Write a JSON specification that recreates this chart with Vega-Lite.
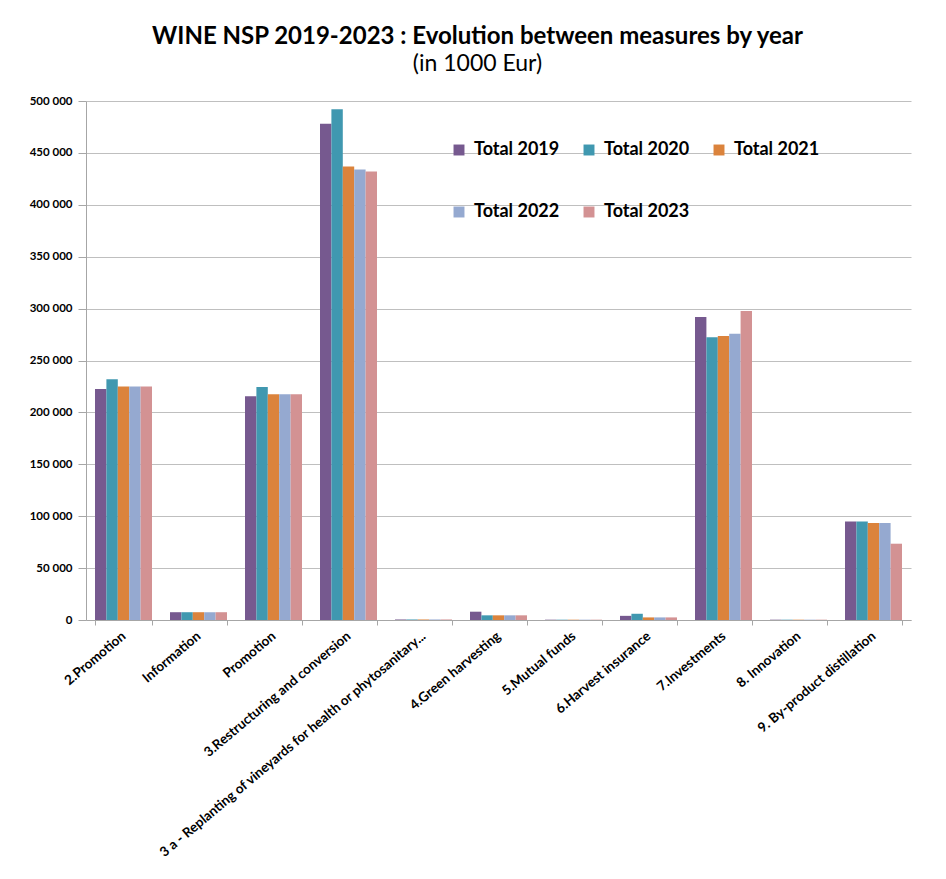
{
  "$schema": "https://vega.github.io/schema/vega-lite/v6.json",
  "width": 825,
  "height": 519,
  "autosize": {"type": "none"},
  "padding": {"left": 86, "top": 101, "right": 35, "bottom": 259},
  "background": "white",
  "title": {
    "text": "WINE NSP 2019-2023 : Evolution  between measures by year",
    "subtitle": "(in 1000 Eur)",
    "anchor": "middle",
    "dx": -21,
    "dy": 1,
    "offset": 20,
    "font": "Lato",
    "fontSize": 24,
    "fontWeight": "bold",
    "color": "#000000",
    "subtitleFont": "Lato",
    "subtitleFontSize": 23,
    "subtitleColor": "#000000",
    "subtitlePadding": 4
  },
  "data": {
    "values": [
      {"measure": "2.Promotion", "year": "Total 2019", "value": 222500},
      {"measure": "2.Promotion", "year": "Total 2020", "value": 232000},
      {"measure": "2.Promotion", "year": "Total 2021", "value": 225000},
      {"measure": "2.Promotion", "year": "Total 2022", "value": 225000},
      {"measure": "2.Promotion", "year": "Total 2023", "value": 225000},
      {"measure": "Information", "year": "Total 2019", "value": 7500},
      {"measure": "Information", "year": "Total 2020", "value": 7500},
      {"measure": "Information", "year": "Total 2021", "value": 7500},
      {"measure": "Information", "year": "Total 2022", "value": 7500},
      {"measure": "Information", "year": "Total 2023", "value": 7500},
      {"measure": "Promotion", "year": "Total 2019", "value": 215500},
      {"measure": "Promotion", "year": "Total 2020", "value": 224500},
      {"measure": "Promotion", "year": "Total 2021", "value": 217500},
      {"measure": "Promotion", "year": "Total 2022", "value": 217500},
      {"measure": "Promotion", "year": "Total 2023", "value": 217500},
      {"measure": "3.Restructuring and conversion", "year": "Total 2019", "value": 478000},
      {"measure": "3.Restructuring and conversion", "year": "Total 2020", "value": 492000},
      {"measure": "3.Restructuring and conversion", "year": "Total 2021", "value": 437000},
      {"measure": "3.Restructuring and conversion", "year": "Total 2022", "value": 434000},
      {"measure": "3.Restructuring and conversion", "year": "Total 2023", "value": 432000},
      {"measure": "3 a - Replanting of vineyards for health or phytosanitary...", "year": "Total 2019", "value": 500},
      {"measure": "3 a - Replanting of vineyards for health or phytosanitary...", "year": "Total 2020", "value": 500},
      {"measure": "3 a - Replanting of vineyards for health or phytosanitary...", "year": "Total 2021", "value": 500},
      {"measure": "3 a - Replanting of vineyards for health or phytosanitary...", "year": "Total 2022", "value": 500},
      {"measure": "3 a - Replanting of vineyards for health or phytosanitary...", "year": "Total 2023", "value": 500},
      {"measure": "4.Green harvesting", "year": "Total 2019", "value": 8000},
      {"measure": "4.Green harvesting", "year": "Total 2020", "value": 4500},
      {"measure": "4.Green harvesting", "year": "Total 2021", "value": 4500},
      {"measure": "4.Green harvesting", "year": "Total 2022", "value": 4500},
      {"measure": "4.Green harvesting", "year": "Total 2023", "value": 4500},
      {"measure": "5.Mutual funds", "year": "Total 2019", "value": 300},
      {"measure": "5.Mutual funds", "year": "Total 2020", "value": 300},
      {"measure": "5.Mutual funds", "year": "Total 2021", "value": 300},
      {"measure": "5.Mutual funds", "year": "Total 2022", "value": 300},
      {"measure": "5.Mutual funds", "year": "Total 2023", "value": 300},
      {"measure": "6.Harvest insurance", "year": "Total 2019", "value": 4000},
      {"measure": "6.Harvest insurance", "year": "Total 2020", "value": 6000},
      {"measure": "6.Harvest insurance", "year": "Total 2021", "value": 2500},
      {"measure": "6.Harvest insurance", "year": "Total 2022", "value": 2500},
      {"measure": "6.Harvest insurance", "year": "Total 2023", "value": 2500},
      {"measure": "7.Investments", "year": "Total 2019", "value": 291800},
      {"measure": "7.Investments", "year": "Total 2020", "value": 272500},
      {"measure": "7.Investments", "year": "Total 2021", "value": 273500},
      {"measure": "7.Investments", "year": "Total 2022", "value": 275700},
      {"measure": "7.Investments", "year": "Total 2023", "value": 297600},
      {"measure": "8. Innovation", "year": "Total 2019", "value": 300},
      {"measure": "8. Innovation", "year": "Total 2020", "value": 300},
      {"measure": "8. Innovation", "year": "Total 2021", "value": 300},
      {"measure": "8. Innovation", "year": "Total 2022", "value": 300},
      {"measure": "8. Innovation", "year": "Total 2023", "value": 300},
      {"measure": "9. By-product distillation", "year": "Total 2019", "value": 95000},
      {"measure": "9. By-product distillation", "year": "Total 2020", "value": 95000},
      {"measure": "9. By-product distillation", "year": "Total 2021", "value": 93500},
      {"measure": "9. By-product distillation", "year": "Total 2022", "value": 93500},
      {"measure": "9. By-product distillation", "year": "Total 2023", "value": 73500}
    ]
  },
  "mark": {"type": "bar", "stroke": null},
  "encoding": {
    "x": {
      "field": "measure",
      "type": "nominal",
      "sort": null,
      "title": null,
      "scale": {"paddingInner": 0.24, "paddingOuter": 0.12},
      "axis": {
        "labelAngle": -40,
        "labelAlign": "right",
        "labelBaseline": "middle",
        "labelFont": "Lato",
        "labelFontSize": 13.5,
        "labelFontWeight": "bold",
        "labelColor": "#000000",
        "labelLimit": 500,
        "labelPadding": 9,
        "tickBand": "extent",
        "tickColor": "#a6a6a6",
        "tickSize": 5,
        "domainColor": "#a6a6a6",
        "grid": false
      }
    },
    "xOffset": {"field": "year", "type": "nominal", "sort": null},
    "y": {
      "field": "value",
      "type": "quantitative",
      "title": null,
      "scale": {"domain": [0, 500000], "nice": false},
      "axis": {
        "values": [0, 50000, 100000, 150000, 200000, 250000, 300000, 350000, 400000, 450000, 500000],
        "labelExpr": "replace(format(datum.value, ','), ',', ' ')",
        "labelFont": "Lato",
        "labelFontSize": 11.5,
        "labelFontWeight": "bold",
        "labelColor": "#000000",
        "labelPadding": 6,
        "tickColor": "#a6a6a6",
        "tickSize": 8,
        "domainColor": "#a6a6a6",
        "gridColor": "#bfbfbf",
        "gridWidth": 1.2
      }
    },
    "color": {
      "field": "year",
      "type": "nominal",
      "sort": null,
      "scale": {
        "domain": ["Total 2019", "Total 2020", "Total 2021", "Total 2022", "Total 2023"],
        "range": ["#76598f", "#4098b0", "#db833c", "#95a9d0", "#d39293"]
      },
      "legend": {
        "title": null,
        "orient": "none",
        "legendX": 364,
        "legendY": 40,
        "direction": "horizontal",
        "columns": 3,
        "symbolType": "square",
        "symbolSize": 120,
        "symbolStrokeWidth": 0,
        "labelFont": "Lato",
        "labelFontSize": 18,
        "labelFontWeight": "bold",
        "labelColor": "#000000",
        "labelOffset": 6,
        "columnPadding": 20,
        "rowPadding": 44
      }
    }
  },
  "config": {
    "view": {"stroke": null},
    "font": "Lato"
  }
}
